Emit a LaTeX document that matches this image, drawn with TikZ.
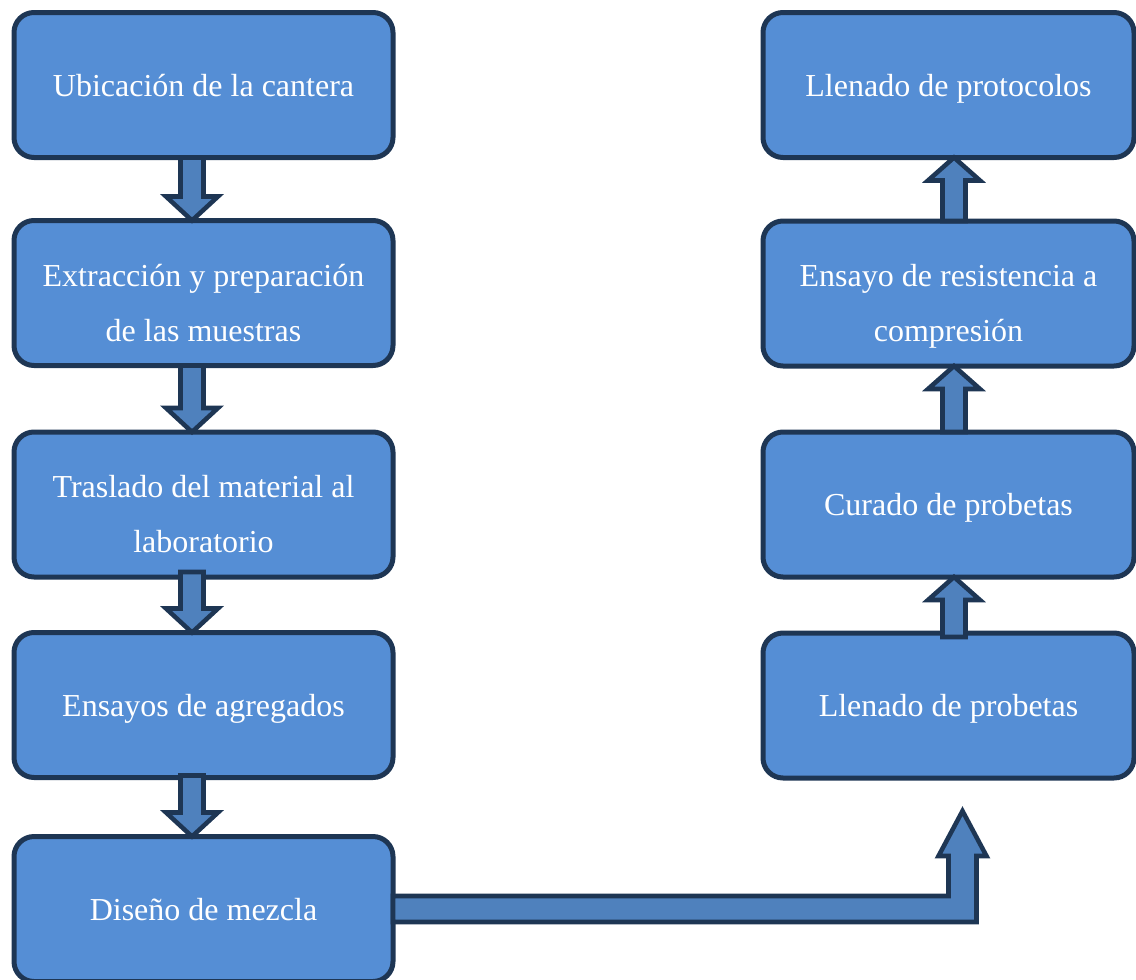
\documentclass[tikz,border=0pt]{standalone}
\usepackage{fontspec}
\setmainfont{Liberation Serif}
\usetikzlibrary{calc}
\definecolor{boxfill}{RGB}{85,142,213}
\definecolor{arrfill}{RGB}{79,129,189}
\definecolor{bord}{RGB}{30,54,84}
\tikzset{
 box/.style={draw=bord, fill=boxfill, line width=3.75pt, rounded corners=15pt,
   minimum height=108.75pt, inner sep=0pt, outer sep=0pt, text=white, align=center,
   font=\fontsize{24}{41.25}\selectfont, text depth=0pt, text height=16.5pt},
 lbox/.style={box, minimum width=284.25pt},
 rbox/.style={box, minimum width=278.25pt},
 twoline/.style={text height=72pt},
 blockarr/.style={draw=bord, fill=arrfill, line width=3.4pt, line join=miter},
}
% #1 from anchor, #2 to anchor (tip), #3 x coordinate, #4 start offset, #5 head-base offset
\newcommand\vblock[5]{%
 \draw[blockarr] let \p1=(#1), \p2=(#2), \p3=(#3) in
  (\x3-8.625pt,\y1#4) -- (\x3-8.625pt,\y2#5) -- (\x3-19.5pt,\y2#5) -- (\x3,\y2)
  -- (\x3+19.5pt,\y2#5) -- (\x3+8.625pt,\y2#5) -- (\x3+8.625pt,\y1#4) -- cycle;}
\begin{document}
\begin{tikzpicture}[x=0.75pt,y=-0.75pt]
\useasboundingbox (0,0) rectangle (1136,979);
\clip (0,0) rectangle (1136,979);
% left column
\node[lbox] (b1) at (203.5,85) {Ubicación de la cantera};
\node[lbox,twoline] (b2) at (203.5,293) {Extracción y preparación\\de las muestras};
\node[lbox,twoline] (b3) at (203.5,504.5) {Traslado del material al\\laboratorio};
\node[lbox] (b4) at (203.5,705) {Ensayos de agregados};
\node[lbox] (b5) at (203.5,909) {Diseño de mezcla};
% right column
\node[rbox] (r1) at (948.5,85) {Llenado de protocolos};
\node[rbox,twoline] (r2) at (948.5,293.5) {Ensayo de resistencia a\\compresión};
\node[rbox] (r3) at (948.5,504.5) {Curado de probetas};
\node[rbox] (r4) at (948.5,705.5) {Llenado de probetas};
% axis coordinates for arrows
\coordinate (lx) at (192,0);
\coordinate (rx) at (954,0);
\coordinate (bend) at (962.5,811);
% down arrows
\vblock{b1.south}{b2.north}{lx}{+0pt}{+18pt}
\vblock{b2.south}{b3.north}{lx}{+0pt}{+18pt}
\vblock{b3.south}{b4.north}{lx}{+3.75pt}{+18pt}
\vblock{b4.south}{b5.north}{lx}{+1.5pt}{+18pt}
% up arrows
\vblock{r2.north}{r1.south}{rx}{+0pt}{-17.25pt}
\vblock{r3.north}{r2.south}{rx}{+0pt}{-17.25pt}
\vblock{r4.north}{r3.south}{rx}{-3pt}{-17.25pt}
% bent arrow
\draw[blockarr] let \p1=(b5.east), \p2=(bend) in
 (\x1,\y1+9.75pt) -- (\x2-10.5pt,\y1+9.75pt) -- (\x2-10.5pt,\y2-33.75pt)
 -- (\x2-18pt,\y2-33.75pt) -- (\x2,\y2) -- (\x2+18pt,\y2-33.75pt)
 -- (\x2+10.5pt,\y2-33.75pt) -- (\x2+10.5pt,\y1-9.75pt) -- (\x1,\y1-9.75pt) -- cycle;
\end{tikzpicture}
\end{document}
